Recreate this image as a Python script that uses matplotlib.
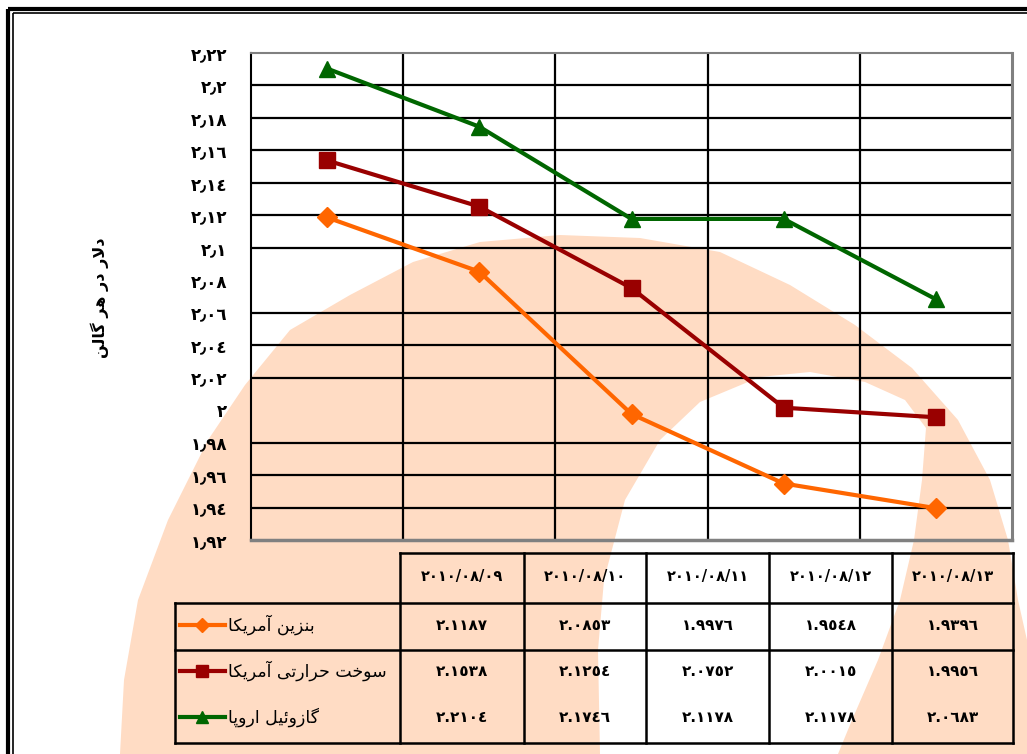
import numpy as np
import matplotlib.pyplot as plt
from matplotlib.patches import Polygon, Rectangle
from matplotlib.lines import Line2D

# data
dates = ['2010/08/09', '2010/08/10', '2010/08/11', '2010/08/12', '2010/08/13']
gasoline_us = [2.1187, 2.0853, 1.9976, 1.9548, 1.9396]
heating_oil_us = [2.1538, 2.1254, 2.0752, 2.0015, 1.9956]
gasoil_eu = [2.2104, 2.1746, 2.1178, 2.1178, 2.0683]
series_names = ['بنزین آمریکا', 'سوخت حرارتی آمریکا', 'گازوئیل اروپا']
y_label = 'دلار در هر گالن'
y_ticks = [1.92, 1.94, 1.96, 1.98, 2.00, 2.02, 2.04, 2.06, 2.08,
           2.10, 2.12, 2.14, 2.16, 2.18, 2.20, 2.22]
# the original drops a couple of grid lines
grid_levels = [1.94, 1.96, 1.98, 2.02, 2.04, 2.06, 2.10, 2.12, 2.14,
               2.16, 2.18, 2.20]

colors = ['#FF6600', '#990000', '#006600']
markers = ['D', 's', '^']
msizes = [10, 12, 12]

# --- minimal Persian shaping (matplotlib has no bidi / shaping) ---
FORMS = {
    '\u0627': ('\uFE8D', '\uFE8E', None, None),
    '\u0622': ('\uFE81', '\uFE82', None, None),
    '\u0628': ('\uFE8F', '\uFE90', '\uFE91', '\uFE92'),
    '\u067E': ('\uFB56', '\uFB57', '\uFB58', '\uFB59'),
    '\u062A': ('\uFE95', '\uFE96', '\uFE97', '\uFE98'),
    '\u062D': ('\uFEA1', '\uFEA2', '\uFEA3', '\uFEA4'),
    '\u062E': ('\uFEA5', '\uFEA6', '\uFEA7', '\uFEA8'),
    '\u062F': ('\uFEA9', '\uFEAA', None, None),
    '\u0631': ('\uFEAD', '\uFEAE', None, None),
    '\u0632': ('\uFEAF', '\uFEB0', None, None),
    '\u0633': ('\uFEB1', '\uFEB2', '\uFEB3', '\uFEB4'),
    '\u0644': ('\uFEDD', '\uFEDE', '\uFEDF', '\uFEE0'),
    '\u0645': ('\uFEE1', '\uFEE2', '\uFEE3', '\uFEE4'),
    '\u0646': ('\uFEE5', '\uFEE6', '\uFEE7', '\uFEE8'),
    '\u0647': ('\uFEE9', '\uFEEA', '\uFEEB', '\uFEEC'),
    '\u0648': ('\uFEED', '\uFEEE', None, None),
    '\u0626': ('\uFE89', '\uFE8A', '\uFE8B', '\uFE8C'),
    '\u06CC': ('\uFBFC', '\uFBFD', '\uFBFE', '\uFBFF'),
    '\u064A': ('\uFEF1', '\uFEF2', '\uFEF3', '\uFEF4'),
    '\u06A9': ('\uFB8E', '\uFB8F', '\uFB90', '\uFB91'),
    '\u0643': ('\uFED9', '\uFEDA', '\uFEDB', '\uFEDC'),
    '\u06AF': ('\uFB92', '\uFB93', '\uFB94', '\uFB95'),
}


def shape(text):
    out = []
    i = 0
    while i < len(text):
        c = text[i]
        if c not in FORMS:
            out.append(c)
            i += 1
            continue
        prev = text[i - 1] if i > 0 else None
        join_prev = prev in FORMS and FORMS[prev][2] is not None
        nxt = text[i + 1] if i + 1 < len(text) else None
        if c == '\u0644' and nxt == '\u0627':
            out.append('\uFEFC' if join_prev else '\uFEFB')
            i += 2
            continue
        f = FORMS[c]
        join_next = f[2] is not None and nxt in FORMS
        if join_prev and join_next:
            out.append(f[3])
        elif join_prev:
            out.append(f[1])
        elif join_next:
            out.append(f[2])
        else:
            out.append(f[0])
        i += 1
    return ''.join(out)[::-1]


AR_DIGITS = str.maketrans('0123456789', '\u0660\u0661\u0662\u0663\u0664\u0665\u0666\u0667\u0668\u0669')


def ar_num(s, sep='.'):
    return s.translate(AR_DIGITS).replace('.', sep)


plt.rcParams['font.family'] = ['DejaVu Sans']

fig = plt.figure(figsize=(10.27, 7.54), dpi=100)

# background layer in pixel coordinates (watermark, frame, data table)
bg = fig.add_axes([0, 0, 1, 1], zorder=-1)
bg.set_xlim(0, 1027)
bg.set_ylim(754, 0)
bg.axis('off')

peach = '#FFDCC4'
outer = [(120, 754), (124, 680), (138, 600), (168, 520), (208, 440), (245, 385),
         (290, 330), (350, 295), (413, 262), (480, 242), (560, 235), (640, 238),
         (720, 252), (790, 285), (855, 325), (912, 368), (958, 420), (990, 480),
         (1008, 540), (1018, 600), (1027, 640), (1027, 754)]
hole = [(600, 754), (598, 650), (604, 580), (625, 500), (660, 440), (700, 402),
        (760, 377), (810, 372), (865, 382), (905, 400), (926, 428), (922, 480),
        (914, 540), (900, 600), (878, 660), (852, 720), (838, 754)]
bg.add_patch(Polygon(outer, closed=True, facecolor=peach, edgecolor='none'))
bg.add_patch(Polygon(hole, closed=True, facecolor='white', edgecolor='none'))

# double frame
bg.add_patch(Rectangle((8, 9), 1100, 900, fill=False, edgecolor='black', lw=3))
bg.add_patch(Rectangle((12.5, 13), 1100, 900, fill=False, edgecolor='black', lw=1.2))

# main chart
ax = fig.add_axes([251 / 1027, 1 - 540 / 754, 761 / 1027, 487 / 754])
ax.set_facecolor('none')
x = np.arange(len(dates))
series = [gasoline_us, heating_oil_us, gasoil_eu]
for vals, c, m, ms in zip(series, colors, markers, msizes):
    ax.plot(x, vals, color=c, lw=3, marker=m, ms=ms, mec=c, mfc=c, zorder=4,
            clip_on=False)

for v in grid_levels:
    ax.axhline(v, color='black', lw=1.6, zorder=2)
for b in x[:-1] + 0.5:
    ax.axvline(b, color='black', lw=1.6, zorder=2)

ax.set_xlim(-0.5, len(dates) - 0.5)
ax.set_ylim(1.92, 2.22)
ax.set_xticks([])
ax.set_yticks(y_ticks)
ax.set_yticklabels([ar_num(f'{v:g}', '\u066B') for v in y_ticks],
                   fontsize=12, fontweight='bold')
ax.tick_params(axis='y', which='major', length=0, pad=17)
ax.set_yticks(grid_levels, minor=True)
ax.tick_params(axis='y', which='minor', length=5, width=1.5, color='black')

ax.spines['left'].set_color('black')
ax.spines['left'].set_linewidth(1.5)
for s, w in [('top', 1.5), ('right', 2.2), ('bottom', 2.5)]:
    ax.spines[s].set_color('#808080')
    ax.spines[s].set_linewidth(w)

bg.text(100, 298, shape(y_label), rotation=90, ha='center', va='center',
        fontsize=11.5, fontweight='bold')

# data table under the chart
col_edges = [400, 524, 646, 769, 892, 1013]
row_edges = [553, 603, 650, 743]
row_y = [625, 671, 717]
lk = dict(color='black', lw=1.8, solid_capstyle='projecting')
bg.plot([400, 1013], [553, 553], **lk)
for yy in row_edges[1:]:
    bg.plot([175, 1013], [yy, yy], **lk)
for xx in col_edges:
    bg.plot([xx, xx], [553, 743], **lk)
bg.plot([175, 175], [603, 743], **lk)

for i, d in enumerate(dates):
    cx = (col_edges[i] + col_edges[i + 1]) / 2
    bg.text(cx, 576, ar_num(d), ha='center', va='center', fontsize=10.5,
            fontweight='bold')
    for vals, yy in zip(series, row_y):
        bg.text(cx, yy, ar_num(f'{vals[i]:.4f}'), ha='center', va='center',
                fontsize=11, fontweight='bold')

for name, c, m, ms, yy in zip(series_names, colors, markers, msizes, row_y):
    bg.add_line(Line2D([180, 225], [yy, yy], color=c, lw=3))
    bg.add_line(Line2D([202], [yy], color=c, marker=m, ms=ms * 0.75, mec=c, mfc=c))
    bg.text(228, yy, shape(name), ha='left', va='center', fontsize=12.5)

fig.savefig('out.png', dpi=100)
